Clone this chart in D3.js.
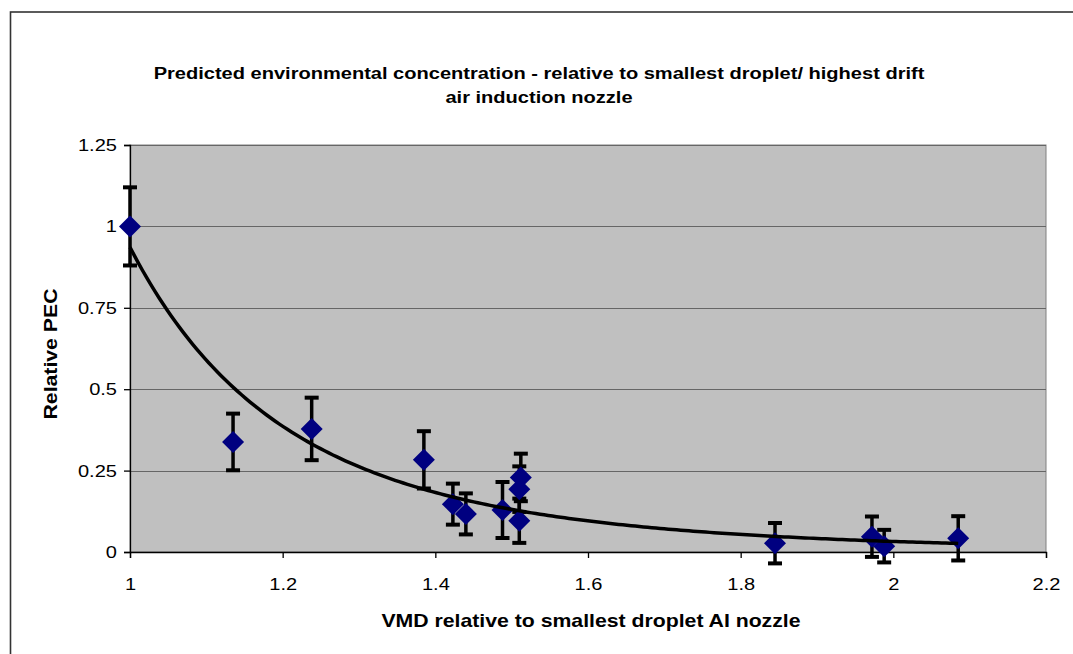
<!DOCTYPE html>
<html>
<head>
<meta charset="utf-8">
<script src="https://cdn.jsdelivr.net/npm/d3@7"></script>
<style>
  html, body { margin: 0; padding: 0; background: #fff; }
  svg { display: block; font-family: "Liberation Sans", Arial, sans-serif; }
</style>
</head>
<body>
<div id="chart"></div>
<script>
// VMD relative to smallest droplet AI nozzle
const vmd = [1.0, 1.135, 1.238, 1.385, 1.423, 1.44, 1.488, 1.512, 1.51, 1.51, 1.845, 1.972, 1.988, 2.085]
// Relative PEC
const pec = [1.0, 0.338, 0.378, 0.283, 0.147, 0.117, 0.129, 0.229, 0.193, 0.096, 0.027, 0.047, 0.018, 0.042]
// error bar half width
const pecErr = [0.12, 0.087, 0.096, 0.088, 0.063, 0.063, 0.086, 0.073, 0.07, 0.068, 0.062, 0.062, 0.05, 0.068]

const xTicks = [1, 1.2, 1.4, 1.6, 1.8, 2, 2.2]
const yTicks = [0, 0.25, 0.5, 0.75, 1, 1.25]

const titleLines = [
  "Predicted environmental concentration - relative to smallest droplet/ highest drift",
  "air induction nozzle"
]
const xLabel = "VMD relative to smallest droplet AI nozzle"
const yLabel = "Relative PEC"

const width = 1073
const height = 654
const margin = { top: 145, right: 27, bottom: 102, left: 130 }
const plotW = width - margin.left - margin.right
const plotH = height - margin.top - margin.bottom
// the original picture is a little wider than tall, text included
const stretch = 1.18

const svg = d3.select("#chart")
  .append("svg")
  .attr("width", width)
  .attr("height", height)

// outer chart border
svg.append("rect")
  .attr("x", 10.5)
  .attr("y", 12)
  .attr("width", width + 20)
  .attr("height", height + 20)
  .attr("fill", "none")
  .attr("stroke", "#333")
  .attr("stroke-width", 1.6)

const x = d3.scaleLinear().domain([1, 2.2]).range([0, plotW])
const y = d3.scaleLinear().domain([0, 1.25]).range([plotH, 0])

const g = svg.append("g")
  .attr("transform", `translate(${margin.left},${margin.top})`)

// plot background
g.append("rect")
  .attr("width", plotW)
  .attr("height", plotH)
  .attr("fill", "#c0c0c0")
  .attr("stroke", "#808080")
  .attr("stroke-width", 1)

// gridlines
g.selectAll(".grid")
  .data(yTicks.filter(d => d > 0))
  .enter()
  .append("line")
  .attr("class", "grid")
  .attr("x1", 0)
  .attr("x2", plotW)
  .attr("y1", d => Math.round(y(d)) + 0.5)
  .attr("y2", d => Math.round(y(d)) + 0.5)
  .attr("stroke", "#666")
  .attr("stroke-width", 1.2)

// axes
const xAxis = d3.axisBottom(x)
  .tickValues(xTicks)
  .tickSize(6)
  .tickPadding(20)
  .tickFormat(d => String(+d.toFixed(1)))

g.append("g")
  .attr("transform", `translate(0,${plotH})`)
  .call(xAxis)

const yAxis = d3.axisLeft(y)
  .tickValues(yTicks)
  .tickSize(6)
  .tickPadding(0)
  .tickFormat(d => String(d))

g.append("g")
  .call(yAxis)

g.selectAll(".domain, .tick line")
  .attr("stroke", "#000")
  .attr("stroke-width", 1.3)

g.selectAll(".tick text")
  .attr("fill", "#000")
  .attr("font-size", "17px")
  .attr("font-family", "Liberation Sans, Arial, sans-serif")

// widen tick labels around their anchor
g.selectAll(".tick text").each(function () {
  const t = d3.select(this)
  const tx = +t.attr("x") || 0
  const ty = +t.attr("y") || 0
  t.attr("x", null).attr("y", null)
    .attr("transform", `translate(${tx === 0 ? 0 : tx - 7},${ty}) scale(${stretch},1)`)
})

// error bars
const capW = 7
const bars = g.selectAll(".err")
  .data(vmd.map((v, i) => ({ x: v, y: pec[i], e: pecErr[i] })))
  .enter()
  .append("g")
  .attr("class", "err")
  .attr("stroke", "#000")

bars.append("line")
  .attr("x1", d => x(d.x))
  .attr("x2", d => x(d.x))
  .attr("y1", d => y(d.y + d.e))
  .attr("y2", d => y(d.y - d.e))
  .attr("stroke-width", 3.5)

bars.selectAll(".cap")
  .data(d => [d.y + d.e, d.y - d.e].map(v => ({ x: d.x, v })))
  .enter()
  .append("line")
  .attr("x1", d => x(d.x) - capW)
  .attr("x2", d => x(d.x) + capW)
  .attr("y1", d => y(d.v))
  .attr("y2", d => y(d.v))
  .attr("stroke-width", 4)

// markers
g.selectAll(".pt")
  .data(vmd.map((v, i) => ({ x: v, y: pec[i] })))
  .enter()
  .append("path")
  .attr("class", "pt")
  .attr("d", "M0,-11L11,0L0,11L-11,0Z")
  .attr("transform", d => `translate(${x(d.x)},${y(d.y)})`)
  .attr("fill", "#000080")

// power trendline (least squares in log-log space)
const lx = vmd.map(Math.log)
const ly = pec.map(Math.log)
const mx = d3.mean(lx)
const my = d3.mean(ly)
const b = d3.sum(lx, (v, i) => (v - mx) * (ly[i] - my)) / d3.sum(lx, v => (v - mx) ** 2)
const a = Math.exp(my - b * mx)
const [xmin, xmax] = d3.extent(vmd)
const trend = d3.range(0, 201).map(i => {
  const xv = xmin + (xmax - xmin) * i / 200
  return [xv, a * Math.pow(xv, b)]
})

g.append("path")
  .datum(trend)
  .attr("fill", "none")
  .attr("stroke", "#000")
  .attr("stroke-width", 3.5)
  .attr("d", d3.line().x(d => x(d[0])).y(d => y(d[1])))

// helper for stretched bold labels
function label(px, py, txt, size, rotate) {
  svg.append("text")
    .attr("transform", `translate(${px},${py})` + (rotate ? " rotate(-90)" : "") + ` scale(${stretch},1)`)
    .attr("text-anchor", "middle")
    .attr("font-weight", "bold")
    .attr("font-size", size + "px")
    .attr("fill", "#000")
    .text(txt)
}

// title
titleLines.forEach((t, i) => label(539, 79 + i * 24, t, 17, false))

// axis labels
label(591, 627, xLabel, 18, false)
label(57, 354, yLabel, 18, true)
</script>
</body>
</html>
